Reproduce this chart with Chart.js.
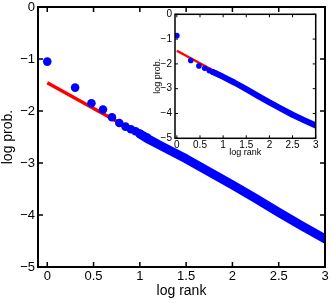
<!DOCTYPE html>
<html>
<head>
<meta charset="utf-8">
<script src="https://cdn.jsdelivr.net/npm/chart.js@4.4.1/dist/chart.umd.min.js"></script>
<style>
  html, body { margin: 0; padding: 0; background: #fff; }
  #wrap { position: relative; width: 332px; height: 303px; }
  #mainChart { position: absolute; left: 0; top: 0; }
  #insetChart { position: absolute; left: 150px; top: 5px; }
</style>
</head>
<body>
<div id="wrap">
  <canvas id="mainChart" width="332" height="303"></canvas>
  <canvas id="insetChart" width="170" height="154"></canvas>
</div>
<script>
// main plot: log10(rank) vs log10(prob), first ranks as separate dots
const mainDotX = [0, 0.301, 0.477, 0.602, 0.699, 0.778, 0.845, 0.903, 0.954, 1.0, 1.041, 1.079];
const mainDotY = [-1.05, -1.55, -1.85, -1.97, -2.12, -2.23, -2.30, -2.35, -2.39, -2.44, -2.48, -2.51];
// dense tail (the points merge into a band)
const mainBandX = [1.0, 1.1, 1.25, 1.5, 1.75, 2.0, 2.25, 2.5, 2.75, 3.0];
const mainBandY = [-2.44, -2.55, -2.69, -2.92, -3.17, -3.42, -3.68, -3.95, -4.21, -4.46];
// fitted line
const mainFitX = [0, 3];
const mainFitY = [-1.457, -4.42];

// inset plot
const insetDotX = [0, 0.301, 0.477, 0.602, 0.699, 0.778, 0.845];
const insetDotY = [-0.86, -1.86, -2.08, -2.18, -2.27, -2.33, -2.38];
const insetBandX = [0.778, 1.0, 1.25, 1.5, 1.75, 2.0, 2.25, 2.5, 2.75, 3.0];
const insetBandY = [-2.33, -2.52, -2.76, -3.02, -3.29, -3.55, -3.80, -4.05, -4.27, -4.48];
const insetFitX = [0, 3];
const insetFitY = [-1.47, -4.5];

// tick labels
const xTicks = [0, 0.5, 1, 1.5, 2, 2.5, 3];
const yTicks = [-5, -4, -3, -2, -1, 0];

const pts = (xs, ys) => xs.map((x, i) => ({ x: x, y: ys[i] }));
const fmt = (v) => (v < 0 ? "\u2212" + Math.abs(v) : String(v));

// matlab-like box with inward ticks
const framePlugin = {
  id: "frame",
  beforeDraw(chart, args, opts) {
    const a = chart.chartArea;
    if (opts.fill) {
      chart.ctx.save();
      chart.ctx.fillStyle = opts.fill;
      chart.ctx.fillRect(a.left, a.top, a.right - a.left, a.bottom - a.top);
      chart.ctx.restore();
    }
  },
  afterDraw(chart, args, opts) {
    const { ctx, chartArea: a, scales } = chart;
    ctx.save();
    ctx.strokeStyle = "#000";
    ctx.lineWidth = opts.tickWidth;
    ctx.beginPath();
    scales.x.ticks.forEach((t) => {
      const px = scales.x.getPixelForValue(t.value);
      ctx.moveTo(px, a.bottom);
      ctx.lineTo(px, a.bottom - opts.tick);
      ctx.moveTo(px, a.top);
      ctx.lineTo(px, a.top + opts.tick);
    });
    scales.y.ticks.forEach((t) => {
      const py = scales.y.getPixelForValue(t.value);
      ctx.moveTo(a.left, py);
      ctx.lineTo(a.left + opts.tick, py);
      ctx.moveTo(a.right, py);
      ctx.lineTo(a.right - opts.tick, py);
    });
    ctx.stroke();
    ctx.lineWidth = opts.lineWidth;
    ctx.strokeRect(a.left, a.top, a.right - a.left, a.bottom - a.top);
    ctx.restore();
  },
};

Chart.defaults.color = "#000";
Chart.defaults.font.family = "'Liberation Sans', Arial, sans-serif";

function makeChart(canvasId, d, s) {
  return new Chart(document.getElementById(canvasId), {
    type: "scatter",
    data: {
      datasets: [
        {
          data: pts(d.dotX, d.dotY),
          showLine: false,
          pointRadius: s.dot,
          pointBackgroundColor: "#0000ff",
          pointBorderWidth: 0,
        },
        {
          data: pts(d.bandX, d.bandY),
          showLine: true,
          borderColor: "#0000ff",
          borderWidth: s.band,
          borderCapStyle: "round",
          borderJoinStyle: "round",
          pointRadius: 0,
        },
        {
          data: pts(d.fitX, d.fitY),
          showLine: true,
          borderColor: "#ff0000",
          borderWidth: s.fit,
          pointRadius: 0,
        },
      ],
    },
    options: {
      responsive: false,
      animation: false,
      devicePixelRatio: 1,
      layout: { padding: s.padding },
      plugins: {
        legend: { display: false },
        tooltip: { enabled: false },
        frame: s.frame,
      },
      scales: {
        x: {
          type: "linear",
          min: s.xMin,
          max: 3,
          grid: { display: false, drawTicks: false },
          border: { display: false },
          afterBuildTicks: (scale) => {
            scale.ticks = xTicks.map((v) => ({ value: v }));
          },
          afterFit: (scale) => {
            scale.height = s.xHeight;
            scale.paddingLeft = 0;
            scale.paddingRight = 0;
          },
          ticks: {
            padding: s.xPad,
            maxRotation: 0,
            autoSkip: false,
            font: { size: s.tickFont },
            callback: (v) => fmt(v),
          },
          title: {
            display: true,
            text: "log rank",
            font: { size: s.titleFont },
            padding: { top: 0, bottom: s.xTitlePad },
          },
        },
        y: {
          type: "linear",
          min: -5,
          max: 0,
          grid: { display: false, drawTicks: false },
          border: { display: false },
          afterBuildTicks: (scale) => {
            scale.ticks = yTicks.map((v) => ({ value: v }));
          },
          afterFit: (scale) => {
            scale.width = s.yWidth;
            scale.paddingTop = 0;
            scale.paddingBottom = 0;
          },
          ticks: {
            padding: 3,
            autoSkip: false,
            font: { size: s.tickFont },
            callback: (v) => fmt(v),
          },
          title: {
            display: true,
            text: "log prob.",
            font: { size: s.titleFont },
            padding: { top: s.yTitlePad, bottom: 0 },
          },
        },
      },
    },
    plugins: [framePlugin],
  });
}

makeChart(
  "mainChart",
  { dotX: mainDotX, dotY: mainDotY, bandX: mainBandX, bandY: mainBandY, fitX: mainFitX, fitY: mainFitY },
  {
    dot: 4.3, band: 9, fit: 3.5,
    padding: { left: 0, top: 7, right: 7, bottom: 0 },
    xMin: -0.1, xHeight: 36, xPad: 2, yWidth: 38,
    tickFont: 13, titleFont: 14, xTitlePad: 3, yTitlePad: 0,
    frame: { tick: 5, tickWidth: 1.5, lineWidth: 2 },
  }
);

makeChart(
  "insetChart",
  { dotX: insetDotX, dotY: insetDotY, bandX: insetBandX, bandY: insetBandY, fitX: insetFitX, fitY: insetFitY },
  {
    dot: 2.8, band: 6, fit: 2.5,
    padding: { left: 0, top: 9.3, right: 4.3, bottom: 0 },
    xMin: -0.04, xHeight: 20.7, xPad: 1, yWidth: 25,
    tickFont: 10, titleFont: 9, xTitlePad: 1, yTitlePad: 2,
    frame: { tick: 3, tickWidth: 1, lineWidth: 1.5, fill: "#fff" },
  }
);
</script>
</body>
</html>
